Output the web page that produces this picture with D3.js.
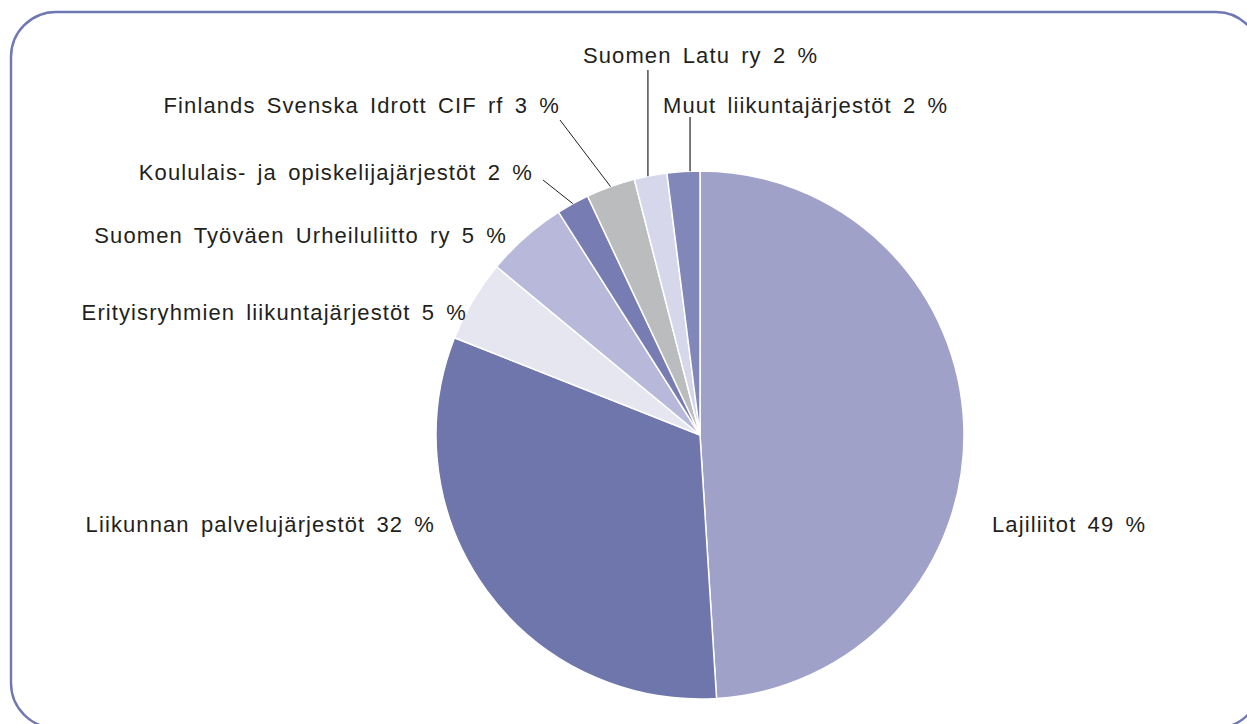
<!DOCTYPE html>
<html>
<head>
<meta charset="utf-8">
<script src="https://cdn.jsdelivr.net/npm/d3@7"></script>
<style>
    body { margin: 0; background: #fff; }
    text { font-family: "Liberation Sans", Arial, sans-serif; fill: #231f20; }
</style>
</head>
<body>
<div id="chart"></div>
<script>
// data
var categories = [
    'Lajiliitot',
    'Liikunnan palvelujärjestöt',
    'Erityisryhmien liikuntajärjestöt',
    'Suomen Työväen Urheiluliitto ry',
    'Koululais- ja opiskelijajärjestöt',
    'Finlands Svenska Idrott CIF rf',
    'Suomen Latu ry',
    'Muut liikuntajärjestöt'
];
var shares = [49, 32, 5, 5, 2, 3, 2, 2];
var colors = ['#9fa1c9', '#6e76ac', '#e6e6f1', '#b8b9da', '#777db2', '#bbbcbe', '#d6d7ea', '#8187b9'];

var width = 1247,
    height = 724,
    cx = 700,
    cy = 435,
    radius = 264;

var dataset = categories.map((c, i) => ({ name: c, value: shares[i], color: colors[i] }));

var svg = d3.select('#chart')
    .append('svg')
    .attr('width', width)
    .attr('height', height);

// frame
svg.append('rect')
    .attr('x', 11)
    .attr('y', 12)
    .attr('width', 1250)
    .attr('height', 716)
    .attr('rx', 45)
    .attr('ry', 45)
    .attr('fill', 'none')
    .attr('stroke', '#6f77b5')
    .attr('stroke-width', 2.4);

var pie = d3.pie()
    .sort(null)
    .value(d => d.value);

var arc = d3.arc()
    .innerRadius(0)
    .outerRadius(radius);

var arcs = pie(dataset);

var plot = svg.append('g')
    .attr('transform', `translate(${cx}, ${cy})`);

plot.selectAll('.slice')
    .data(arcs)
    .enter()
    .append('path')
    .attr('class', 'slice')
    .attr('d', arc)
    .attr('fill', d => d.data.color)
    .attr('stroke', '#fff')
    .attr('stroke-width', 1.5);

// label layout (relative to pie centre)
var labelLayout = [
    { anchor: 'start', dx: radius + 28, dy: 97 },
    { anchor: 'end', dx: -radius - 1, dy: 97 },
    { anchor: 'end', dx: -233, dy: -115 },
    { anchor: 'end', dx: -193, dy: -192 },
    { anchor: 'end', dx: -167, dy: -255, lead: [-157, -255] },
    { anchor: 'end', dx: -140, dy: -322, lead: [-140, -315] },
    { anchor: 'start', dx: -117, dy: -372, vertical: -365, frac: 0.42 },
    { anchor: 'start', dx: -37, dy: -322, vertical: -318, frac: 0.7 }
];

function pointOnArc(d, frac) {
    var f = frac === undefined ? 0.5 : frac;
    var a = d.startAngle + (d.endAngle - d.startAngle) * f;
    return [radius * Math.sin(a), -radius * Math.cos(a)];
}

// leader lines
arcs.forEach((d, i) => {
    var l = labelLayout[i];
    var p = pointOnArc(d, l.frac);
    if (l.lead) {
        plot.append('line')
            .attr('x1', l.lead[0]).attr('y1', l.lead[1])
            .attr('x2', p[0]).attr('y2', p[1])
            .attr('stroke', '#231f20').attr('stroke-width', 1);
    }
    if (l.vertical !== undefined) {
        plot.append('line')
            .attr('x1', p[0]).attr('y1', l.vertical)
            .attr('x2', p[0]).attr('y2', p[1])
            .attr('stroke', '#231f20').attr('stroke-width', 1.2);
    }
});

plot.selectAll('.label')
    .data(arcs)
    .enter()
    .append('text')
    .attr('class', 'label')
    .attr('x', (d, i) => labelLayout[i].dx)
    .attr('y', (d, i) => labelLayout[i].dy)
    .attr('text-anchor', (d, i) => labelLayout[i].anchor)
    .attr('font-size', 22)
    .style('letter-spacing', '1.1px')
    .style('word-spacing', '4px')
    .text(d => `${d.data.name} ${d.data.value} %`);
</script>
</body>
</html>
